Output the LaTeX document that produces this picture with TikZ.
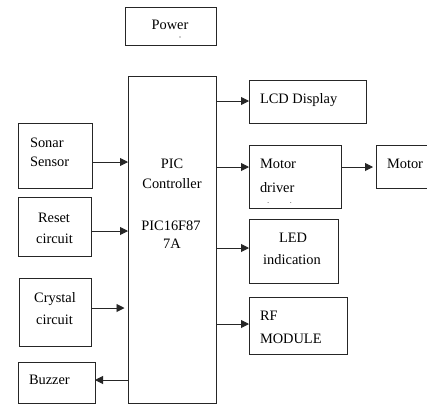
\documentclass[tikz,border=0pt]{standalone}
\usepackage{fontspec}
\setmainfont{Liberation Serif}
\usetikzlibrary{arrows.meta}
\tikzset{
  box/.style={draw=black!85, line width=0.8pt, inner sep=0pt, outer sep=0pt, fill=none},
  txt/.style={inner sep=0pt, outer sep=0pt, font=\fontsize{14.4}{17}\selectfont, text=black},
  arr/.style={draw=black!85, line width=0.9pt, -{Triangle[length=8pt,width=8pt]}}
}
\begin{document}
\begin{tikzpicture}[x=1pt,y=-1pt]
\clip (0,0) rectangle (427,405);
\fill[white] (0,0) rectangle (427,405);
% boxes
\node[box, minimum width=91pt, minimum height=38pt] (power) at (170.5,26) {};
\node[box, minimum width=88pt, minimum height=327pt] (pic) at (172,239.5) {};
\node[box, minimum width=74pt, minimum height=65pt] (sonar) at (55,155.5) {};
\node[box, minimum width=73pt, minimum height=59pt] (reset) at (54.5,226.5) {};
\node[box, minimum width=72pt, minimum height=68pt] (crystal) at (55,312) {};
\node[box, minimum width=77pt, minimum height=41pt] (buzzer) at (56.5,382.5) {};
\node[box, minimum width=117pt, minimum height=43pt] (lcd) at (307.5,101.5) {};
\node[box, minimum width=92pt, minimum height=63pt] (driver) at (295,176.5) {};
\node[box, minimum width=60pt, minimum height=43pt] (motor) at (406,166.5) {};
\node[box, minimum width=89pt, minimum height=64pt] (led) at (293.5,251) {};
\node[box, minimum width=98pt, minimum height=57pt] (rf) at (298,325.5) {};
% texts
\node[txt, anchor=base] (powerT) at (170,29) {Power};
\node[circle, fill=black!80, inner sep=0pt, minimum size=1.4pt] (powerDot) at (180,37) {};
\node[txt, anchor=base] (picT1) at (172,168) {PIC};
\node[txt, anchor=base] (picT2) at (172,188) {Controller};
\node[txt, anchor=base] (picT3) at (171,230) {PIC16F87};
\node[txt, anchor=base] (picT4) at (172,248) {7A};
\node[txt, anchor=base west] (sonarT1) at (30,147) {Sonar};
\node[txt, anchor=base west] (sonarT2) at (30,166) {Sensor};
\node[txt, anchor=base] (resetT1) at (54,222) {Reset};
\node[txt, anchor=base] (resetT2) at (54.5,243) {circuit};
\node[txt, anchor=base] (crystalT1) at (55,302) {Crystal};
\node[txt, anchor=base] (crystalT2) at (54.5,324) {circuit};
\node[txt, anchor=base west] (buzzerT) at (29,384) {Buzzer};
\node[txt, anchor=base west] (lcdT) at (260,103) {LCD Display};
\node[txt, anchor=base west] (driverT1) at (260,168) {Motor};
\node[txt, anchor=base west] (driverT2) at (260,192) {driver};
\begin{scope}
\clip (250,195) rectangle (340,202.5);
\node[txt, anchor=base west] (driverT3) at (260,212) {circuit};
\end{scope}
\node[txt, anchor=base west] (motorT) at (387,168) {Motor};
\node[txt, anchor=base] (ledT1) at (293,242) {LED};
\node[txt, anchor=base] (ledT2) at (292,264) {indication};
\node[txt, anchor=base west] (rfT1) at (260,320) {RF};
\node[txt, anchor=base west] (rfT2) at (260,343) {MODULE};
% arrow levels
\coordinate (ySonar) at (0,162);
\coordinate (yReset) at (0,231);
\coordinate (yCrystal) at (0,308);
\coordinate (yBuzzer) at (0,380);
\coordinate (yLcd) at (0,101);
\coordinate (yDriver) at (0,167);
\coordinate (yLed) at (0,248);
\coordinate (yRf) at (0,324);
% connectors
\draw[arr] (sonar.east |- ySonar) -- (pic.west |- ySonar);
\draw[arr] (reset.east |- yReset) -- (pic.west |- yReset);
\draw[arr, shorten >=3.5pt] (crystal.east |- yCrystal) -- (pic.west |- yCrystal);
\draw[arr] (pic.west |- yBuzzer) -- (buzzer.east |- yBuzzer);
\draw[arr] (pic.east |- yLcd) -- (lcd.west |- yLcd);
\draw[arr] (pic.east |- yDriver) -- (driver.west |- yDriver);
\draw[arr, shorten >=3pt] (driver.east |- yDriver) -- (motor.west |- yDriver);
\draw[arr] (pic.east |- yLed) -- (led.west |- yLed);
\draw[arr] (pic.east |- yRf) -- (rf.west |- yRf);
\end{tikzpicture}
\end{document}
